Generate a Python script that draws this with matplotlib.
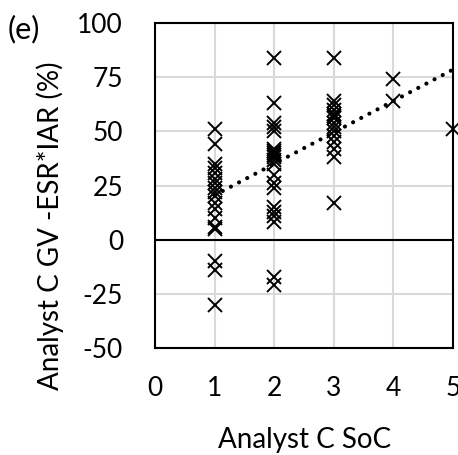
import numpy as np
import matplotlib
matplotlib.use('Agg')
import matplotlib.pyplot as plt

plt.rcParams['font.family'] = ['Lato', 'DejaVu Sans']
plt.rcParams['axes.unicode_minus'] = False

# SoC scores and GV - ESR*IAR values (%) for each score
soc_1 = [51, 44, 35, 33, 31, 28, 26, 24, 22, 20, 17, 14, 10, 6, 5, -10, -14, -30]
soc_2 = [84, 63, 54, 52, 50, 42, 41, 40, 39, 38, 37, 35, 30, 26, 24, 15, 13, 11, 8, -17, -21]
soc_3 = [84, 64, 62, 60, 58, 57, 56, 54, 52, 50, 48, 45, 42, 38, 17]
soc_4 = [74, 64]
soc_5 = [51]

# linear trendline
trend_x = [1, 5]
trend_y = [20.5, 78.5]

x_ticks = [0, 1, 2, 3, 4, 5]
y_ticks = [-50, -25, 0, 25, 50, 75, 100]

xs = []
ys = []
for score, vals in zip([1, 2, 3, 4, 5], [soc_1, soc_2, soc_3, soc_4, soc_5]):
    xs += [score] * len(vals)
    ys += vals

fig = plt.figure(figsize=(4.58, 4.55), dpi=100)
ax = fig.add_axes([155/458, 107/455, 298/458, 325/455])

ax.grid(True, color='#d9d9d9', lw=1.5, zorder=0)
ax.set_axisbelow(True)
ax.axhline(0, color='black', lw=1.5, zorder=1)

ax.plot(xs, ys, 'x', color='black', ms=9.5, mew=1.4, zorder=3, clip_on=False)
ax.plot(trend_x, trend_y, color='black', lw=3, linestyle=(0, (0.01, 2.2)),
        dash_capstyle='round', zorder=4)

ax.set_xlim(0, 5)
ax.set_ylim(-50, 100)
ax.set_xticks(x_ticks)
ax.set_yticks(y_ticks)
ax.tick_params(length=0, labelsize=19)
ax.tick_params(axis='x', pad=20)
ax.tick_params(axis='y', pad=23)
for s in ax.spines.values():
    s.set_linewidth(1.5)
    s.set_color('black')

fig.text(50/458, 1 - 226/455, 'Analyst C GV -ESR*IAR (%)', rotation=90,
         ha='center', va='center', fontsize=20)
fig.text(305/458, 1 - 440/455, 'Analyst C SoC', ha='center', va='center', fontsize=20)
fig.text(8/458, 1 - 29/455, '(e)', ha='left', va='center', fontsize=22)

fig.savefig('out.png', dpi=100)
